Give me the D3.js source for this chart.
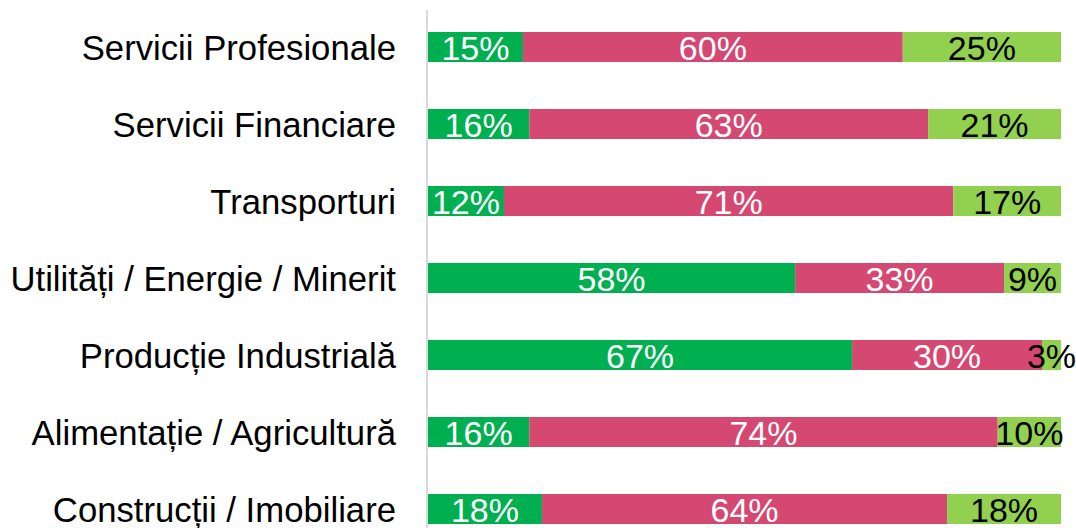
<html>
<head>
<style>
  body { margin: 0; background: #fff; }
  svg text { font-family: "Liberation Sans", Arial, sans-serif; }
</style>
</head>
<body>
<svg class="chart" width="1076" height="528"></svg>
<script src="https://cdn.jsdelivr.net/npm/d3@7"></script>
<script>
// categories, top to bottom
var categories = [
    "Servicii Profesionale",
    "Servicii Financiare",
    "Transporturi",
    "Utilități / Energie / Minerit",
    "Producție Industrială",
    "Alimentație / Agricultură",
    "Construcții / Imobiliare"
];
var seriesA = [15, 16, 12, 58, 67, 16, 18];
var seriesB = [60, 63, 71, 33, 30, 74, 64];
var seriesC = [25, 21, 17, 9, 3, 10, 18];
var seriesKeys = ["a", "b", "c"];
var colors = ["#00b050", "#d54872", "#92d050"];
var labelColors = ["#fff", "#fff", "#000"];

var rows = categories.map(function(c, i) {
    return { cat: c, a: seriesA[i], b: seriesB[i], c: seriesC[i] };
});

var svg = d3.select('.chart');

var x = d3.scaleLinear().domain([0, 100]).range([428, 1061]);
var y = d3.scaleBand()
    .domain(categories)
    .range([8.5, 547.5])
    .paddingInner(47 / 77)
    .paddingOuter(47 / 154);

var stack = d3.stack().keys(seriesKeys)(rows);

var layers = svg.selectAll('g.layer')
    .data(stack)
    .enter()
    .append('g')
    .attr('class', 'layer');

layers.each(function(layer, li) {
    var g = d3.select(this);
    g.selectAll('rect')
        .data(layer)
        .enter()
        .append('rect')
        .attr('x', function(d) { return x(d[0]); })
        .attr('y', function(d) { return y(d.data.cat); })
        .attr('width', function(d) { return x(d[1]) - x(d[0]); })
        .attr('height', y.bandwidth())
        .style('fill', colors[li]);
});

// value labels on top of all bars
layers.each(function(layer, li) {
    svg.append('g').selectAll('text')
        .data(layer)
        .enter()
        .append('text')
        .attr('x', function(d) { return (x(d[0]) + x(d[1])) / 2; })
        .attr('y', function(d) { return y(d.data.cat) + y.bandwidth() / 2; })
        .attr('dy', '0.37em')
        .attr('text-anchor', 'middle')
        .style('font-size', '34px')
        .style('fill', labelColors[li])
        .text(function(d) { return (d[1] - d[0]) + '%'; });
});

// category axis
var axis = svg.append('g')
    .attr('transform', 'translate(427,0)')
    .call(d3.axisLeft(y).tickSize(0).tickPadding(31));
axis.select('.domain').remove();
axis.append('line')
    .attr('x1', 0).attr('x2', 0)
    .attr('y1', 10).attr('y2', 528)
    .style('stroke', '#d9d9d9')
    .style('stroke-width', 2);
axis.selectAll('text')
    .style('font-size', '34.7px')
    .style('font-family', '"Liberation Sans", Arial, sans-serif')
    .style('fill', '#000')
    .attr('dy', '0.37em');
</script>
</body>
</html>
